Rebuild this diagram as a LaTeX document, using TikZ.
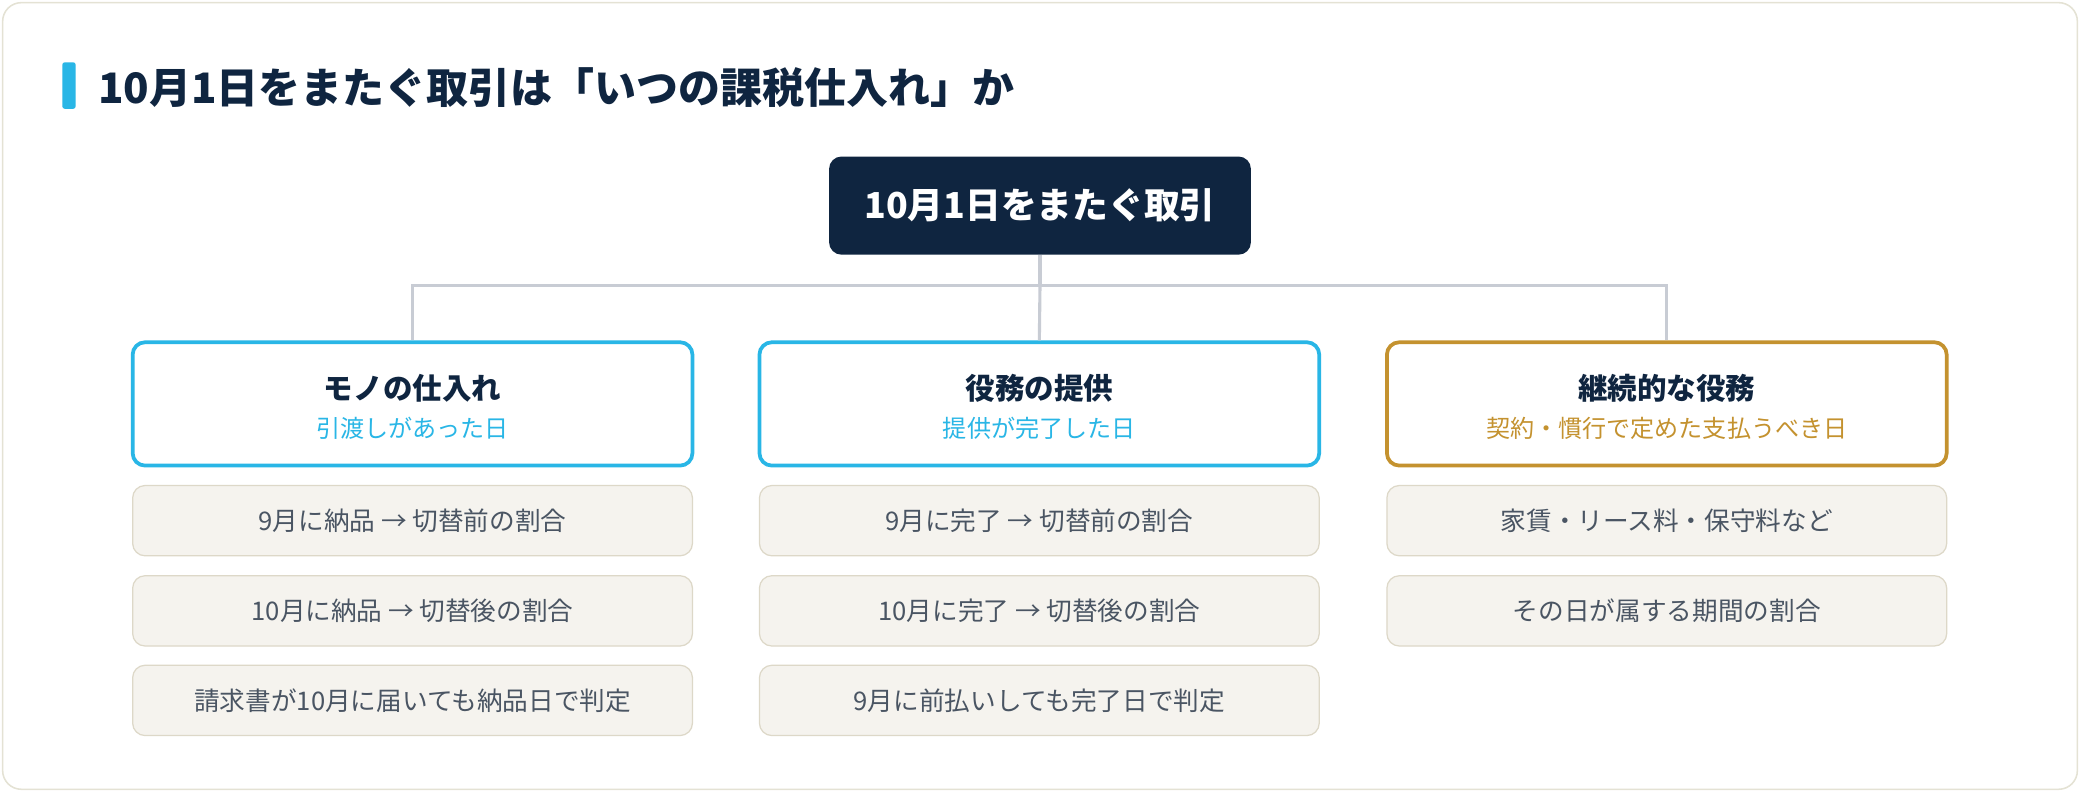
\documentclass[tikz,border=0pt]{standalone}
\usepackage{fontspec}
\setmainfont{Noto Sans CJK JP}
\usetikzlibrary{positioning}
\definecolor{navy}{HTML}{0F2540}
\definecolor{cyanb}{HTML}{29B6E6}
\definecolor{gold}{HTML}{C4922F}
\definecolor{linec}{HTML}{C8CCD4}
\definecolor{itemf}{HTML}{F5F3EE}
\definecolor{itemb}{HTML}{DDD8C8}
\definecolor{itemt}{HTML}{4A5563}
\definecolor{outer}{HTML}{E4E2D4}
\begin{document}
\begin{tikzpicture}[x=0.03cm,y=-0.03cm,
 cat/.style={draw=#1,line width=2.4pt,rounded corners=8pt,fill=white,minimum width=422*0.03cm,minimum height=93*0.03cm,align=center,inner sep=0pt},
 item/.style={draw=itemb,line width=0.8pt,rounded corners=8pt,fill=itemf,minimum width=422*0.03cm,minimum height=53*0.03cm,text=itemt,font=\fontsize{16.5}{19}\selectfont},
 conn/.style={draw=linec,line width=2pt}]
\useasboundingbox (0,0) rectangle (1568,597);
\draw[outer,line width=1pt,fill=white,rounded corners=12pt] (2,2) rectangle (1566,595);
\fill[cyanb,rounded corners=1.5pt] (47,47) rectangle (57,82);
\node[anchor=west,text=navy,font=\fontsize{27}{31}\bfseries\selectfont] (title) at (70,66) {10月1日をまたぐ取引は「いつの課税仕入れ」か};
\node[fill=navy,rounded corners=8pt,minimum width=318*0.03cm,minimum height=74*0.03cm,text=white,font=\fontsize{23}{26}\bfseries\selectfont] (top) at (784,155) {10月1日をまたぐ取引};
\coordinate (j) at (784,215);
\node[cat=cyanb] (c1) at (311,304.5) {};
\node[cat=cyanb] (c2) at (783.5,304.5) {};
\node[cat=gold] (c3) at (1256.5,304.5) {};
\draw[conn] (top.south) -- (j);
\draw[conn] (c1.north) -- (311,215) -- (1256.5,215) -- (c3.north);
\draw[conn] (j) -- (c2.north);
\node[text=navy,font=\fontsize{19}{22}\bfseries\selectfont] (t1) at (311,293) {モノの仕入れ};
\node[text=cyanb,font=\fontsize{15.5}{18}\selectfont] (s1) at (311,323) {引渡しがあった日};
\node[text=navy,font=\fontsize{19}{22}\bfseries\selectfont] (t2) at (783.5,293) {役務の提供};
\node[text=cyanb,font=\fontsize{15.5}{18}\selectfont] (s2) at (783.5,323) {提供が完了した日};
\node[text=navy,font=\fontsize{19}{22}\bfseries\selectfont] (t3) at (1256.5,293) {継続的な役務};
\node[text=gold,font=\fontsize{15.5}{18}\selectfont] (s3) at (1256.5,323) {契約・慣行で定めた支払うべき日};
\node[item] (a1) at (311,392.5) {9月に納品 → 切替前の割合};
\node[item] (a2) at (311,460.5) {10月に納品 → 切替後の割合};
\node[item] (a3) at (311,528) {請求書が10月に届いても納品日で判定};
\node[item] (b1) at (783.5,392.5) {9月に完了 → 切替前の割合};
\node[item] (b2) at (783.5,460.5) {10月に完了 → 切替後の割合};
\node[item] (b3) at (783.5,528) {9月に前払いしても完了日で判定};
\node[item] (d1) at (1256.5,392.5) {家賃・リース料・保守料など};
\node[item] (d2) at (1256.5,460.5) {その日が属する期間の割合};
\end{tikzpicture}
\end{document}
